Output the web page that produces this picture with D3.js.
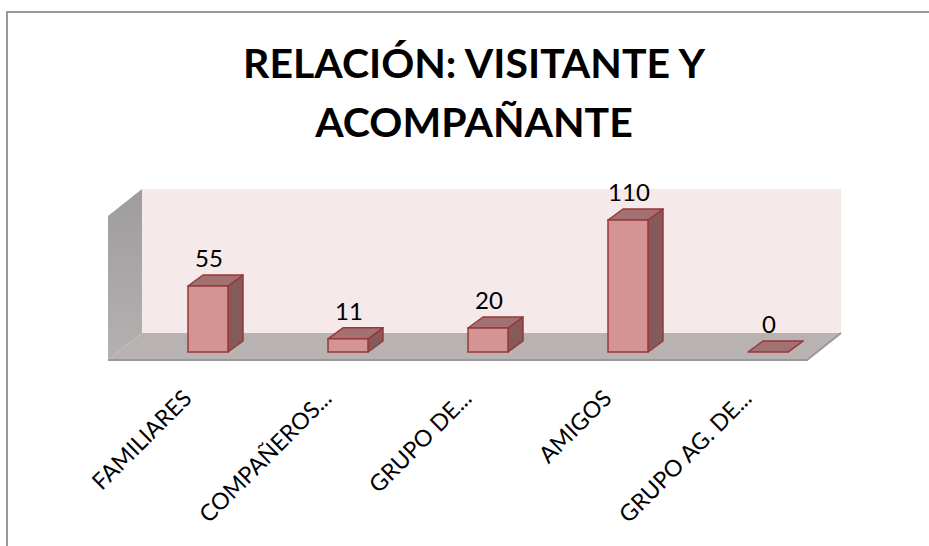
<!DOCTYPE html>
<html>
<head>
<meta charset="utf-8">
<script src="https://cdn.jsdelivr.net/npm/d3@7"></script>
<style>
  body { margin: 0; background: #fff; }
  text { font-family: Lato, "Open Sans", sans-serif; }
</style>
</head>
<body>
<div id="chart"></div>
<script>
// data
var categories = ['FAMILIARES', 'COMPAÑEROS...', 'GRUPO DE...', 'AMIGOS', 'GRUPO AG. DE...'];
var values = [55, 11, 20, 110, 0];
var titleLines = ['RELACIÓN: VISITANTE Y', 'ACOMPAÑANTE'];

var W = 929, H = 546;

var svg = d3.select('#chart')
    .append('svg')
    .attr('width', W)
    .attr('height', H);

// outer chart frame (only top and left edges show)
svg.append('path')
    .attr('d', 'M7,546 L7,12 L929,12')
    .attr('fill', 'none')
    .attr('stroke', '#999')
    .attr('stroke-width', 2);

// title
svg.append('text')
    .attr('text-anchor', 'middle')
    .attr('font-size', 41)
    .attr('font-weight', 'bold')
    .attr('fill', '#000')
    .selectAll('tspan')
    .data(titleLines)
    .enter()
    .append('tspan')
    .attr('x', 474)
    .attr('y', function (d, i) { return 78 + i * 59; })
    .text(function (d) { return d; });

// 3d box geometry: front plane of floor, depth offset
var floorFront = 360, depthX = 34, depthY = 27,
    left = 108, right = 807;

var x = d3.scaleBand()
    .domain(categories)
    .range([138, 838])
    .paddingInner(0);

var y = d3.scaleLinear()
    .domain([0, 120])
    .range([0, 144]);

var defs = svg.append('defs');
var wallGrad = defs.append('linearGradient')
    .attr('id', 'sideWall')
    .attr('x1', 0).attr('y1', 0).attr('x2', 0).attr('y2', 1);
wallGrad.append('stop').attr('offset', '0%').attr('stop-color', '#9e9c9c');
wallGrad.append('stop').attr('offset', '100%').attr('stop-color', '#b4b1b1');

var backTop = floorFront - depthY - y(120);

// back wall
svg.append('rect')
    .attr('x', left + depthX)
    .attr('y', backTop)
    .attr('width', right - left)
    .attr('height', y(120))
    .attr('fill', '#f5e9e9');

// left side wall
svg.append('polygon')
    .attr('points', [
      [left, backTop + depthY],
      [left + depthX, backTop],
      [left + depthX, floorFront - depthY],
      [left, floorFront]
    ].join(' '))
    .attr('fill', 'url(#sideWall)');

// floor
svg.append('polygon')
    .attr('points', [
      [left + depthX, floorFront - depthY],
      [right + depthX, floorFront - depthY],
      [right, floorFront],
      [left, floorFront]
    ].join(' '))
    .attr('fill', '#b9b2b2');

svg.append('path')
    .attr('d', 'M' + left + ',' + floorFront + ' L' + right + ',' + floorFront + ' L' + (right + depthX) + ',' + (floorFront - depthY))
    .attr('fill', 'none')
    .attr('stroke', '#999')
    .attr('stroke-width', 2);

// bars sit in the middle of the depth
var barW = 40,
    bx = 15, by = 11,            // bar depth
    base = floorFront - 8;       // front bottom edge of bars

function cx(i) { return x(categories[i]) + x.bandwidth() / 2; }

var bars = svg.selectAll('g.bar')
    .data(values)
    .enter()
    .append('g')
    .attr('class', 'bar');

// side face
bars.append('polygon')
    .attr('points', function (d, i) {
      var x1 = cx(i) + barW / 2, top = base - y(d);
      return [[x1, base], [x1 + bx, base - by], [x1 + bx, top - by], [x1, top]].join(' ');
    })
    .attr('fill', '#845a5a')
    .attr('stroke', '#983838')
    .attr('stroke-width', 1.5)
    .attr('stroke-linejoin', 'round');

// top face
bars.append('polygon')
    .attr('points', function (d, i) {
      var x0 = cx(i) - barW / 2, top = base - y(d);
      return [[x0, top], [x0 + barW, top], [x0 + barW + bx, top - by], [x0 + bx, top - by]].join(' ');
    })
    .attr('fill', '#a37171')
    .attr('stroke', '#983838')
    .attr('stroke-width', 1.5)
    .attr('stroke-linejoin', 'round');

// front face
bars.append('rect')
    .attr('x', function (d, i) { return cx(i) - barW / 2; })
    .attr('y', function (d) { return base - y(d); })
    .attr('width', barW)
    .attr('height', function (d) { return y(d); })
    .attr('display', function (d) { return d > 0 ? null : 'none'; })
    .attr('fill', '#d49494')
    .attr('stroke', '#983838')
    .attr('stroke-width', 1.5);

// value labels
bars.append('text')
    .attr('x', function (d, i) { return cx(i) + 1; })
    .attr('y', function (d) { return base - y(d) - 19; })
    .attr('text-anchor', 'middle')
    .attr('font-size', 24)
    .attr('fill', '#000')
    .text(function (d) { return d; });

// category labels, rotated
svg.selectAll('text.cat')
    .data(categories)
    .enter()
    .append('text')
    .attr('class', 'cat')
    .attr('text-anchor', 'end')
    .attr('font-size', 23)
    .attr('fill', '#000')
    .attr('transform', function (d) {
      return 'translate(' + (x(d) + x.bandwidth() / 2 - 15) + ',' + 400 + ') rotate(-45)';
    })
    .text(function (d) { return d; });
</script>
</body>
</html>
